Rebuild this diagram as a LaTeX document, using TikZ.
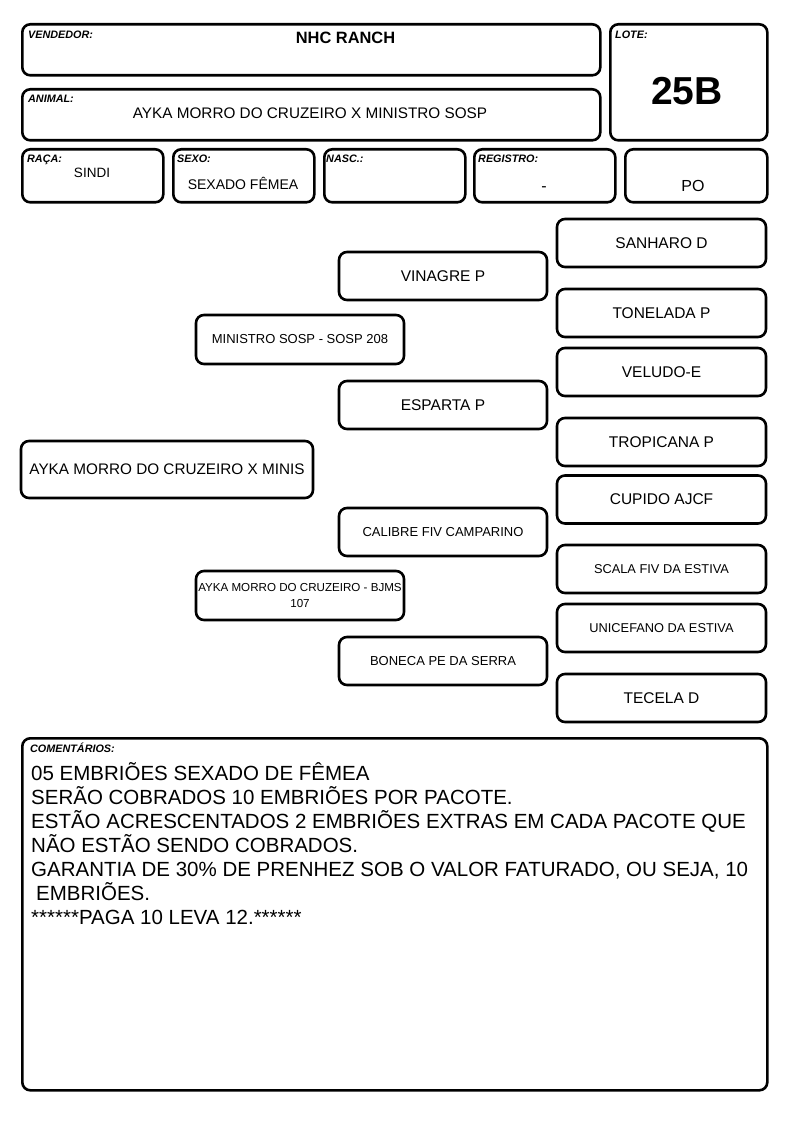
\documentclass[tikz,border=0pt]{standalone}
\usepackage{fontspec}
\setmainfont{Liberation Sans}
\begin{document}
\begin{tikzpicture}[x=1pt,y=-1pt,
    box/.style={draw, line width=2.6pt, rounded corners=8pt, inner sep=0pt, anchor=north west},
    lbl/.style={font=\bfseries\itshape\fontsize{10.8}{12}\selectfont, anchor=base west, inner sep=0pt},
    val/.style={font=\fontsize{14}{16}\selectfont, anchor=base, inner sep=0pt},
    ped/.style={draw, line width=2.6pt, rounded corners=8pt, inner sep=0pt, align=center},
    big/.style={font=\fontsize{15.5}{18}\selectfont},
    small/.style={font=\fontsize{12.8}{15}\selectfont}]
    \useasboundingbox (0,0) rectangle (794,1123);

    % cabecalho
    \node[box, minimum width=578, minimum height=51] (vendedor) at (21,23) {};
    \node[lbl] (vendedorlbl) at (28,39) {VENDEDOR:};
    \node[val, font=\bfseries\fontsize{16.4}{18}\selectfont] (vendedorval) at (345.5,43.5) {NHC RANCH};

    \node[box, minimum width=578, minimum height=51] (nome) at (21,88) {};
    \node[lbl] (nomelbl) at (28,103) {ANIMAL:};
    \node[val, font=\fontsize{15.3}{18}\selectfont] (nomeval) at (310,119) {AYKA MORRO DO CRUZEIRO X MINISTRO SOSP};

    \node[box, minimum width=157, minimum height=116] (lote) at (609,23) {};
    \node[lbl] (lotelbl) at (615,39) {LOTE:};
    \node[val, font=\bfseries\fontsize{39}{42}\selectfont] (loteval) at (687,105) {25B};

    \node[box, minimum width=141, minimum height=53] (raca) at (21,148) {};
    \node[lbl] (racalbl) at (27,163) {RAÇA:};
    \node[val, font=\fontsize{13.5}{16}\selectfont] (racaval) at (92,178) {SINDI};

    \node[box, minimum width=141, minimum height=53] (sexo) at (172,148) {};
    \node[lbl] (sexolbl) at (177,163) {SEXO:};
    \node[val] (sexoval) at (243,190) {SEXADO FÊMEA};

    \node[box, minimum width=141, minimum height=53] (nasc) at (323,148) {};
    \node[lbl] (nasclbl) at (326,163) {NASC.:};

    \node[box, minimum width=141, minimum height=53] (registro) at (473,148) {};
    \node[lbl] (registrolbl) at (478,163) {REGISTRO:};
    \node[val, font=\fontsize{16}{18}\selectfont] (registroval) at (544,192) {-};

    \node[box, minimum width=142, minimum height=53] (po) at (624,148) {};
    \node[val, font=\fontsize{16}{18}\selectfont] (poval) at (693,192) {PO};

    % genealogia
    \node[ped, minimum width=292, minimum height=57, font=\fontsize{15.3}{18}\selectfont] (animal) at (167,469.5) {AYKA MORRO DO CRUZEIRO X MINIS};

    \node[ped, minimum width=208, minimum height=49, font=\fontsize{13}{15}\selectfont] (pai) at (300,339.5) {MINISTRO SOSP - SOSP 208};
    \node[ped, minimum width=208, minimum height=49, font=\fontsize{11.6}{16}\selectfont] (mae) at (300,595.5) {AYKA MORRO DO CRUZEIRO - BJMS\\107};

    \node[ped, big, minimum width=208, minimum height=48] (avopai) at (443,276) {VINAGRE P};
    \node[ped, big, minimum width=208, minimum height=48] (avopaim) at (443,405) {ESPARTA P};
    \node[ped, minimum width=208, minimum height=48, font=\fontsize{13}{15}\selectfont] (avomae) at (443,532) {CALIBRE FIV CAMPARINO};
    \node[ped, minimum width=208, minimum height=48, font=\fontsize{13}{15}\selectfont] (avomaem) at (443,661) {BONECA PE DA SERRA};

    \foreach \n/\y/\s/\txt in {1/243/big/SANHARO D, 2/313/big/TONELADA P,
        3/372/big/VELUDO-E, 4/442/big/TROPICANA P, 5/499.5/big/CUPIDO AJCF,
        6/569/small/SCALA FIV DA ESTIVA, 7/628/small/UNICEFANO DA ESTIVA,
        8/698/big/TECELA D}
        \node[ped, \s, minimum width=209, minimum height=48] (bisavo\n) at (661.5,\y) {\txt};

    % comentarios
    \node[box, minimum width=745, minimum height=352] (coment) at (21,737) {};
    \node[lbl] (comentlbl) at (30,752) {COMENTÁRIOS:};
    \node[anchor=north west, inner sep=0pt, align=left, font=\fontsize{20.5}{24}\selectfont] (comenttxt) at (31,762)
        {05 EMBRIÕES SEXADO DE FÊMEA\\
         SERÃO COBRADOS 10 EMBRIÕES POR PACOTE.\\
         ESTÃO ACRESCENTADOS 2 EMBRIÕES EXTRAS EM CADA PACOTE QUE\\
         NÃO ESTÃO SENDO COBRADOS.\\
         GARANTIA DE 30\% DE PRENHEZ SOB O VALOR FATURADO, OU SEJA, 10\\
         \hspace*{5pt}EMBRIÕES.\\
         ******PAGA 10 LEVA 12.******};
\end{tikzpicture}
\end{document}
